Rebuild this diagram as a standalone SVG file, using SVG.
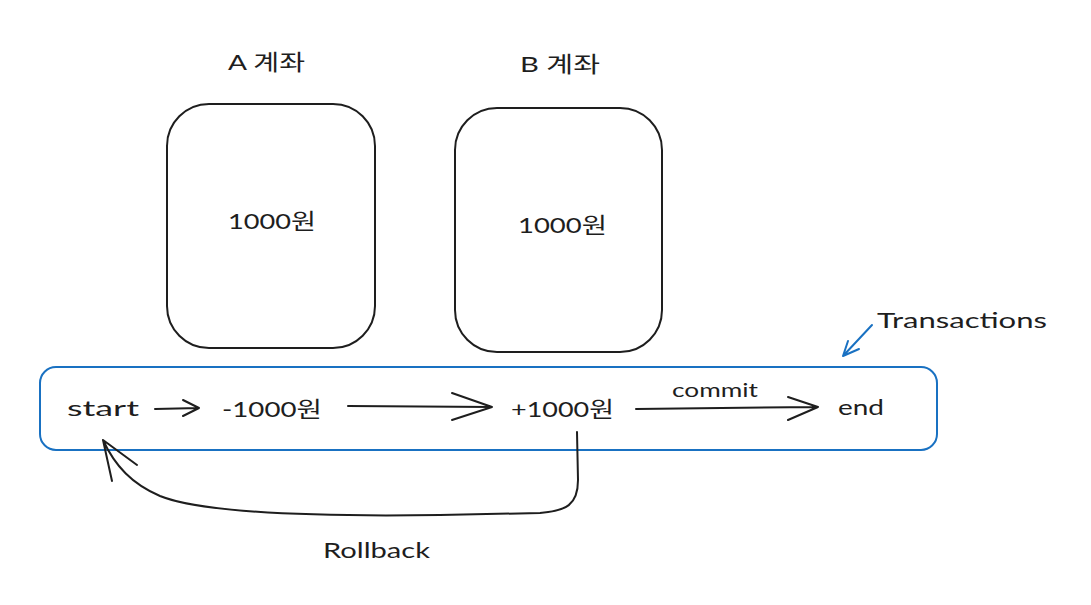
<svg xmlns="http://www.w3.org/2000/svg" width="1091" height="605" viewBox="0 0 1091 605">
<style>
.t{font-family:"Lato","Noto Sans CJK KR",sans-serif;font-size:22px;fill:#1e1e1e}
.s{fill:none;stroke:#1e1e1e;stroke-width:2;stroke-linecap:round;stroke-linejoin:round}
.b{fill:none;stroke:#1971c2;stroke-width:2;stroke-linecap:round;stroke-linejoin:round}
</style>
<rect width="1091" height="605" fill="#ffffff"/>
<g id="label-a"><text class="t" x="228" y="70" textLength="77" lengthAdjust="spacingAndGlyphs">A 계좌</text></g>
<g id="label-b"><text class="t" x="520" y="72" textLength="80" lengthAdjust="spacingAndGlyphs">B 계좌</text></g>
<g id="account-a">
<rect class="s" x="167" y="104" width="208" height="244" rx="42"/>
<text class="t" x="228" y="229" textLength="88" lengthAdjust="spacingAndGlyphs">1000원</text>
</g>
<g id="account-b">
<rect class="s" x="455" y="108" width="207" height="244" rx="42"/>
<text class="t" x="518" y="233" textLength="89" lengthAdjust="spacingAndGlyphs">1000원</text>
</g>
<g id="transaction">
<rect class="b" x="40" y="367" width="897" height="83" rx="16"/>
</g>
<g id="start"><text class="t" x="67" y="416" textLength="72" lengthAdjust="spacingAndGlyphs">start</text></g>
<g id="minus"><text class="t" x="222" y="417" textLength="100" lengthAdjust="spacingAndGlyphs">-1000원</text></g>
<g id="plus"><text class="t" x="511" y="417" textLength="103" lengthAdjust="spacingAndGlyphs">+1000원</text></g>
<g id="end"><text class="t" x="838" y="415" textLength="46" lengthAdjust="spacingAndGlyphs">end</text></g>
<g id="transactions-label"><text class="t" x="877" y="328" textLength="170" lengthAdjust="spacingAndGlyphs">Transactions</text></g>
<g id="connectors">
<path class="s" d="M155,409 L199,408 M183,400 L199,408 L183,416"/>
<path class="s" d="M348,406 L492,407 M452,393 L492,407 L452,420"/>
<path class="s" d="M636,409 L818,407 M788,397 L818,407 L788,420"/>
<text class="t" x="672" y="397" style="font-size:19px" textLength="86" lengthAdjust="spacingAndGlyphs">commit</text>
<path class="b" d="M872,325 L843,356 M848,341 L843,356 L859,349"/>
<path class="s" d="M577,432 L578,480 C578,505 566,511 540,513 L440,515 C300,517 200,512 160,496 C132,484 115,466 103,440 M112,481 L103,440 L137,465"/>
<text class="t" x="323" y="558" textLength="107" lengthAdjust="spacingAndGlyphs">Rollback</text>
</g>
</svg>
